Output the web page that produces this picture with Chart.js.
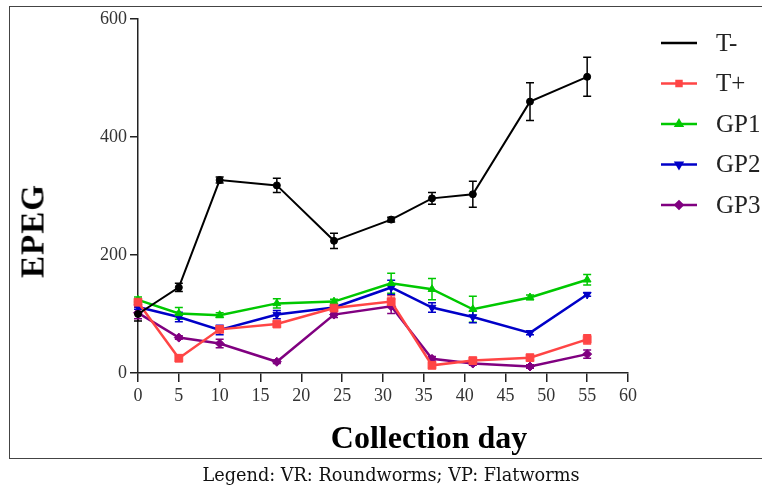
<!DOCTYPE html>
<html>
<head>
<meta charset="utf-8">
<script src="https://cdn.jsdelivr.net/npm/chart.js@4.4.0/dist/chart.umd.min.js"></script>
<style>
  html,body{margin:0;padding:0;background:#fff;overflow:hidden;}
  body{width:762px;height:491px;position:relative;}
  .rule{position:absolute;background:#444;}
  #wrap{position:absolute;left:0;top:0;width:762px;height:491px;}
  .ytitle{position:absolute;left:33px;top:231px;transform:translate(-50%,-50%) rotate(-90deg);
    font:bold 33px "Liberation Serif",serif;color:#000;white-space:nowrap;letter-spacing:1px;}
  .xtitle{position:absolute;left:429px;top:437px;transform:translate(-50%,-50%);
    font:bold 32px "Liberation Serif",serif;color:#000;white-space:nowrap;}
  .caption{position:absolute;left:10px;width:762px;top:465px;text-align:center;
    font:17.7px "DejaVu Serif",serif;color:#111;}
</style>
</head>
<body>
<div class="rule" style="left:9px;top:6px;width:753px;height:1px"></div>
<div class="rule" style="left:9px;top:6px;width:1px;height:453px"></div>
<div class="rule" style="left:9px;top:458px;width:753px;height:1px"></div>
<div id="wrap"><canvas id="chart" width="762" height="491"></canvas></div>
<div class="ytitle">EPEG</div>
<div class="xtitle">Collection day</div>
<div class="caption">Legend: VR: Roundworms; VP: Flatworms</div>
<script>
// collection days (x) and series values
const days = [0, 5, 10, 17, 24, 31, 36, 41, 48, 55];

const tMinus    = [100, 145, 327, 318, 224, 260, 296, 303, 460, 502];
const tMinusErr = [12, 7, 5, 12, 13, 4, 10, 22, 32, 33];

const tPlus     = [120, 25, 74, 83, 110, 121, 13, 21, 26, 57];
const tPlusErr  = [6, 5, 4, 4, 4, 10, 4, 4, 4, 8];

const gp1       = [124, 101, 98, 118, 121, 152, 142, 108, 128, 158];
const gp1Err    = [5, 10, 4, 8, 4, 17, 18, 22, 4, 9];

const gp2       = [112, 95, 73, 99, 111, 145, 111, 95, 68, 133];
const gp2Err    = [4, 8, 8, 7, 4, 12, 8, 10, 3, 3];

const gp3       = [102, 60, 50, 19, 99, 113, 24, 16, 11, 32];
const gp3Err    = [10, 3, 7, 3, 5, 12, 4, 3, 3, 7];

const names  = ['T-', 'T+', 'GP1', 'GP2', 'GP3'];
const colors = ['#000000', '#ff4545', '#00c800', '#0000c8', '#800080'];
const values = [tMinus, tPlus, gp1, gp2, gp3];
const errors = [tMinusErr, tPlusErr, gp1Err, gp2Err, gp3Err];
const styles = ['circle', 'rect', 'triangle', 'triangle', 'rectRot'];
const rots   = [0, 0, 0, 180, 0];
const radii  = [3.5, 5.5, 4.5, 4.5, 4.5];

const serif = '"Liberation Serif", serif';

const datasets = names.map((n, i) => ({
  label: n,
  data: days.map((d, j) => ({x: d, y: values[i][j]})),
  errs: errors[i],
  borderColor: colors[i],
  backgroundColor: colors[i],
  borderWidth: i === 0 ? 2 : 2.5,
  pointStyle: styles[i],
  rotation: rots[i],
  pointRadius: radii[i],
  pointBorderWidth: 1,
  tension: 0,
  clip: false
}));

// error bars from the errs arrays, through the chart's scales
const errorBars = {
  id: 'errorBars',
  beforeDatasetsDraw(chart) {
    const ctx = chart.ctx, ys = chart.scales.y;
    chart.data.datasets.forEach((ds, i) => {
      const meta = chart.getDatasetMeta(i);
      ctx.save();
      ctx.strokeStyle = ds.borderColor;
      ctx.lineWidth = 1.5;
      meta.data.forEach((pt, j) => {
        const v = ds.data[j].y, e = ds.errs[j];
        const top = ys.getPixelForValue(v + e), bot = ys.getPixelForValue(v - e);
        ctx.beginPath();
        ctx.moveTo(pt.x, top); ctx.lineTo(pt.x, bot);
        ctx.moveTo(pt.x - 4, top); ctx.lineTo(pt.x + 4, top);
        ctx.moveTo(pt.x - 4, bot); ctx.lineTo(pt.x + 4, bot);
        ctx.stroke();
      });
      ctx.restore();
    });
  }
};

// legend drawn at the right like the original figure
const sideLegend = {
  id: 'sideLegend',
  afterDraw(chart) {
    const ctx = chart.ctx;
    const x0 = 661, x1 = 697, tx = 716;
    chart.data.datasets.forEach((ds, i) => {
      const y = 43 + i * 40.5;
      ctx.save();
      ctx.strokeStyle = ds.borderColor;
      ctx.lineWidth = 2.5;
      ctx.beginPath(); ctx.moveTo(x0, y); ctx.lineTo(x1, y); ctx.stroke();
      if (i > 0) {
        ctx.fillStyle = ds.backgroundColor;
        Chart.helpers.drawPoint(ctx, {pointStyle: ds.pointStyle, radius: 3.5, rotation: ds.rotation, borderWidth: 1}, (x0 + x1) / 2, y);
        ctx.fill();
      }
      ctx.fillStyle = '#222';
      ctx.font = '25px ' + serif;
      ctx.textBaseline = 'middle';
      ctx.fillText(ds.label, tx, y + 1);
      ctx.restore();
    });
  }
};

new Chart(document.getElementById('chart'), {
  type: 'line',
  data: {datasets},
  options: {
    responsive: false,
    animation: false,
    layout: {padding: {left: 0, right: 134, top: 19, bottom: 0}},
    plugins: {legend: {display: false}, tooltip: {enabled: false}},
    scales: {
      x: {
        type: 'linear', min: 0, max: 60,
        afterFit: s => { s.height = 118; },
        ticks: {stepSize: 5, color: '#333', font: {family: serif, size: 18}, padding: 3, maxRotation: 0},
        grid: {drawOnChartArea: false, drawTicks: true, tickLength: 9, color: '#222', lineWidth: 1.5},
        border: {display: true, color: '#222', width: 1.5}
      },
      y: {
        min: 0, max: 600,
        afterFit: s => { s.width = 138; },
        ticks: {stepSize: 200, color: '#333', font: {family: serif, size: 18}, padding: 3},
        grid: {drawOnChartArea: false, drawTicks: true, tickLength: 8, color: '#222', lineWidth: 1.5},
        border: {display: true, color: '#222', width: 1.5}
      }
    }
  },
  plugins: [errorBars, sideLegend]
});
</script>
</body>
</html>
